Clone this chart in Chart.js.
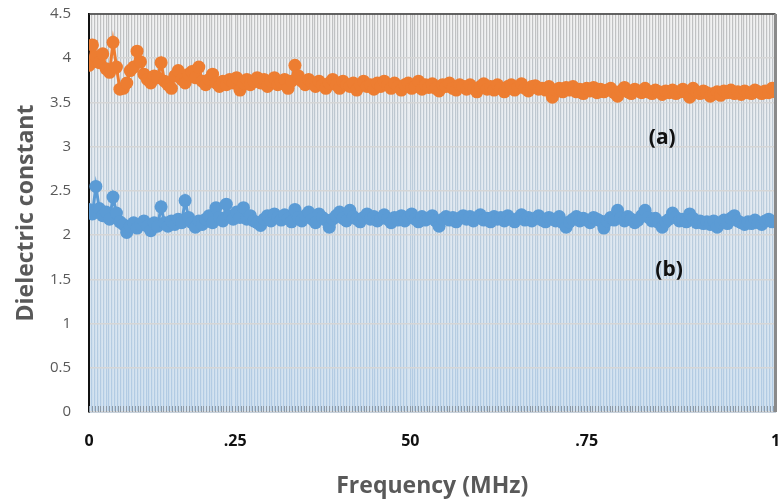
<!DOCTYPE html>
<html>
<head>
<meta charset="utf-8">
<script src="https://cdn.jsdelivr.net/npm/chart.js@4/dist/chart.umd.min.js"></script>
<style>
  html, body { margin: 0; padding: 0; background: #fff; }
  #wrap { width: 782px; height: 500px; }
</style>
</head>
<body>
<div id="wrap"><canvas id="chart" width="782" height="500"></canvas></div>
<script>
// Frequency (normalised, 0 - 1 MHz)
const freq = [
  0.000, 0.005, 0.010, 0.015, 0.020, 0.025, 0.030, 0.035, 0.040, 0.045,
  0.050, 0.055, 0.060, 0.065, 0.070, 0.075, 0.080, 0.085, 0.090, 0.095,
  0.100, 0.105, 0.110, 0.115, 0.120, 0.125, 0.130, 0.135, 0.140, 0.145,
  0.150, 0.155, 0.160, 0.165, 0.170, 0.175, 0.180, 0.185, 0.190, 0.195,
  0.200, 0.205, 0.210, 0.215, 0.220, 0.225, 0.230, 0.235, 0.240, 0.245,
  0.250, 0.255, 0.260, 0.265, 0.270, 0.275, 0.280, 0.285, 0.290, 0.295,
  0.300, 0.305, 0.310, 0.315, 0.320, 0.325, 0.330, 0.335, 0.340, 0.345,
  0.350, 0.355, 0.360, 0.365, 0.370, 0.375, 0.380, 0.385, 0.390, 0.395,
  0.400, 0.405, 0.410, 0.415, 0.420, 0.425, 0.430, 0.435, 0.440, 0.445,
  0.450, 0.455, 0.460, 0.465, 0.470, 0.475, 0.480, 0.485, 0.490, 0.495,
  0.500, 0.505, 0.510, 0.515, 0.520, 0.525, 0.530, 0.535, 0.540, 0.545,
  0.550, 0.555, 0.560, 0.565, 0.570, 0.575, 0.580, 0.585, 0.590, 0.595,
  0.600, 0.605, 0.610, 0.615, 0.620, 0.625, 0.630, 0.635, 0.640, 0.645,
  0.650, 0.655, 0.660, 0.665, 0.670, 0.675, 0.680, 0.685, 0.690, 0.695,
  0.700, 0.705, 0.710, 0.715, 0.720, 0.725, 0.730, 0.735, 0.740, 0.745,
  0.750, 0.755, 0.760, 0.765, 0.770, 0.775, 0.780, 0.785, 0.790, 0.795,
  0.800, 0.805, 0.810, 0.815, 0.820, 0.825, 0.830, 0.835, 0.840, 0.845,
  0.850, 0.855, 0.860, 0.865, 0.870, 0.875, 0.880, 0.885, 0.890, 0.895,
  0.900, 0.905, 0.910, 0.915, 0.920, 0.925, 0.930, 0.935, 0.940, 0.945,
  0.950, 0.955, 0.960, 0.965, 0.970, 0.975, 0.980, 0.985, 0.990, 0.995,
  1.000
];

// (a) orange series
const seriesA = [
  3.92, 4.15, 4.02, 3.95, 4.05, 3.88, 3.84, 4.18, 3.90, 3.65,
  3.66, 3.72, 3.86, 3.90, 4.08, 3.96, 3.82, 3.76, 3.72, 3.80,
  3.78, 3.95, 3.74, 3.70, 3.66, 3.80, 3.86, 3.76, 3.72, 3.82,
  3.85, 3.78, 3.90, 3.74, 3.70, 3.76, 3.82, 3.72, 3.68, 3.74,
  3.70, 3.76, 3.72, 3.78, 3.64, 3.72, 3.76, 3.70, 3.74, 3.78,
  3.72, 3.76, 3.68, 3.74, 3.78, 3.70, 3.73, 3.76, 3.66, 3.74,
  3.92, 3.80, 3.74, 3.70, 3.76, 3.72, 3.68, 3.74, 3.70, 3.66,
  3.72, 3.76, 3.70, 3.66, 3.74, 3.70, 3.68, 3.72, 3.64, 3.70,
  3.74, 3.68, 3.70, 3.65, 3.72, 3.68, 3.74, 3.70, 3.66, 3.72,
  3.68, 3.64, 3.70, 3.72, 3.66, 3.68, 3.74, 3.65, 3.70, 3.67,
  3.71, 3.66, 3.63, 3.70, 3.68, 3.72, 3.66, 3.64, 3.70, 3.68,
  3.65, 3.70, 3.66, 3.62, 3.68, 3.71, 3.65, 3.68, 3.64, 3.70,
  3.66, 3.62, 3.68, 3.70, 3.64, 3.67, 3.71, 3.66, 3.63, 3.68,
  3.69, 3.65, 3.66, 3.64, 3.68, 3.56, 3.64, 3.66, 3.62, 3.67,
  3.64, 3.68, 3.62, 3.65, 3.60, 3.66, 3.63, 3.67, 3.61, 3.65,
  3.62, 3.64, 3.66, 3.61, 3.57, 3.63, 3.67, 3.62, 3.60, 3.65,
  3.63, 3.61, 3.66, 3.62, 3.60, 3.64, 3.62, 3.59, 3.63, 3.61,
  3.64, 3.60, 3.62, 3.65, 3.61, 3.56, 3.66, 3.62, 3.60, 3.63,
  3.61, 3.57, 3.60, 3.62, 3.58, 3.63, 3.61, 3.64, 3.60, 3.62,
  3.59, 3.63, 3.61, 3.60, 3.64, 3.62, 3.60, 3.63, 3.61, 3.66,
  3.62
];

// (b) blue series
const seriesB = [
  2.29, 2.24, 2.55, 2.30, 2.22, 2.26, 2.18, 2.43, 2.25, 2.15,
  2.12, 2.03, 2.10, 2.14, 2.08, 2.12, 2.16, 2.10, 2.05, 2.14,
  2.10, 2.32, 2.14, 2.10, 2.16, 2.12, 2.18, 2.14, 2.39, 2.20,
  2.14, 2.09, 2.16, 2.12, 2.18, 2.22, 2.14, 2.31, 2.20, 2.16,
  2.35, 2.22, 2.18, 2.26, 2.20, 2.31, 2.18, 2.22, 2.16, 2.14,
  2.11, 2.18, 2.22, 2.16, 2.24, 2.20, 2.17, 2.23, 2.19, 2.15,
  2.29, 2.20, 2.16, 2.22, 2.26, 2.18, 2.14, 2.24, 2.20, 2.17,
  2.09, 2.18, 2.22, 2.26, 2.19, 2.16, 2.28, 2.21, 2.18, 2.15,
  2.20, 2.24, 2.18, 2.21, 2.16, 2.19, 2.23, 2.18, 2.14, 2.20,
  2.17, 2.22, 2.16, 2.20, 2.24, 2.18, 2.15, 2.21, 2.17, 2.19,
  2.22, 2.16, 2.10, 2.18, 2.21, 2.17, 2.20, 2.15, 2.19, 2.22,
  2.18, 2.21, 2.16, 2.20, 2.23, 2.17, 2.19, 2.15, 2.21, 2.18,
  2.20, 2.16, 2.22, 2.18, 2.15, 2.19, 2.23, 2.17, 2.20, 2.16,
  2.19, 2.22, 2.17, 2.15, 2.20, 2.18, 2.16, 2.21, 2.14, 2.09,
  2.15, 2.18, 2.21, 2.16, 2.19, 2.17, 2.14, 2.20, 2.18, 2.16,
  2.08, 2.16, 2.20, 2.17, 2.28, 2.20, 2.16, 2.21, 2.18, 2.14,
  2.17, 2.22, 2.28, 2.20, 2.16, 2.19, 2.14, 2.09, 2.15, 2.18,
  2.25, 2.20, 2.16, 2.18, 2.15, 2.24, 2.19, 2.14, 2.16, 2.13,
  2.15, 2.12, 2.16, 2.09, 2.14, 2.17, 2.13, 2.19, 2.22, 2.16,
  2.14, 2.12, 2.15, 2.13, 2.17, 2.14, 2.12, 2.16, 2.18, 2.15,
  2.16
];

// x tick labels as printed on the original figure, and where they sit
const xTickLabels = ['0', '.25', '50', '.75', '1'];
const xTickPos = [0, 0.213, 0.468, 0.725, 1];

const yTicks = [0, 0.5, 1, 1.5, 2, 2.5, 3, 3.5, 4, 4.5];

const ORANGE = '#ED7D31';
const BLUE = '#5B9BD5';

Chart.defaults.font.family = "'Open Sans', sans-serif";

function toPoints(ys) {
    return ys.map((y, i) => ({ x: freq[i], y: y }));
}

// gradient helpers (plot background goes grey -> light blue)
let bgGrad = null, lineGrad = null;
function makeGrads(chart) {
    const a = chart.chartArea;
    const ctx = chart.ctx;
    bgGrad = ctx.createLinearGradient(0, a.top, 0, a.bottom);
    bgGrad.addColorStop(0, '#f2f2f2');
    bgGrad.addColorStop(0.45, '#e3eaf1');
    bgGrad.addColorStop(1, '#d2e2f0');
    lineGrad = ctx.createLinearGradient(0, a.top, 0, a.bottom);
    lineGrad.addColorStop(0, '#c0c0c0');
    lineGrad.addColorStop(0.45, '#bccddc');
    lineGrad.addColorStop(1, '#b1cbe4');
}

const plotFrame = {
    id: 'plotFrame',
    beforeDraw(chart) {
        const a = chart.chartArea;
        makeGrads(chart);
        const ctx = chart.ctx;
        ctx.save();
        ctx.fillStyle = bgGrad;
        ctx.fillRect(a.left, a.top, a.right - a.left, a.bottom - a.top);
        ctx.restore();
    },
    beforeDatasetsDraw(chart) {
        // short dark tick strip along the bottom edge, one per grid line
        const a = chart.chartArea;
        const ctx = chart.ctx;
        const xs = chart.scales.x;
        ctx.save();
        ctx.strokeStyle = '#8e9aa6';
        ctx.lineWidth = 1;
        ctx.beginPath();
        xs.ticks.forEach(t => {
            const px = Math.round(xs.getPixelForValue(t.value)) + 0.5;
            ctx.moveTo(px, a.bottom - 6);
            ctx.lineTo(px, a.bottom);
        });
        ctx.stroke();
        ctx.restore();
    },
    afterDatasetsDraw(chart) {
        const a = chart.chartArea;
        const ctx = chart.ctx;
        ctx.save();
        // top border
        ctx.strokeStyle = '#3a3a3a';
        ctx.lineWidth = 1.5;
        ctx.beginPath();
        ctx.moveTo(a.left, a.top);
        ctx.lineTo(a.right, a.top);
        ctx.stroke();
        // right border
        ctx.strokeStyle = '#8a8a8a';
        ctx.lineWidth = 3;
        ctx.beginPath();
        ctx.moveTo(a.right, a.top);
        ctx.lineTo(a.right, a.bottom);
        ctx.stroke();
        // series tags
        const xs = chart.scales.x, ys = chart.scales.y;
        ctx.fillStyle = '#111';
        ctx.font = "bold 21px 'Open Sans', sans-serif";
        ctx.textAlign = 'center';
        ctx.textBaseline = 'middle';
        ctx.fillText('(a)', xs.getPixelForValue(0.835), ys.getPixelForValue(3.1));
        ctx.fillText('(b)', xs.getPixelForValue(0.845), ys.getPixelForValue(1.6));
        ctx.restore();
    }
};

new Chart(document.getElementById('chart'), {
    type: 'scatter',
    data: {
        datasets: [
            {
                label: '(a)',
                data: toPoints(seriesA),
                showLine: true,
                borderColor: ORANGE,
                backgroundColor: ORANGE,
                borderWidth: 3,
                pointRadius: 6.5,
                pointBorderWidth: 0
            },
            {
                label: '(b)',
                data: toPoints(seriesB),
                showLine: true,
                borderColor: BLUE,
                backgroundColor: BLUE,
                borderWidth: 3,
                pointRadius: 6.5,
                pointBorderWidth: 0
            }
        ]
    },
    options: {
        responsive: false,
        animation: false,
        layout: { padding: { left: 0, right: 3, top: 14, bottom: 0 } },
        plugins: {
            legend: { display: false },
            tooltip: { enabled: false }
        },
        scales: {
            x: {
                type: 'linear',
                min: 0,
                max: 1,
                afterBuildTicks(scale) {
                    const ticks = [];
                    for (let i = 0; i <= 240; i++) {
                        const v = i / 240;
                        if (xTickPos.some(p => Math.abs(p - v) < 0.002)) continue;
                        ticks.push({ value: v });
                    }
                    xTickPos.forEach(p => ticks.push({ value: p }));
                    ticks.sort((a, b) => a.value - b.value);
                    scale.ticks = ticks;
                },
                afterFit(scale) {
                    scale.height = 88;
                    scale.paddingLeft = 0;
                    scale.paddingRight = 0;
                },
                grid: {
                    color: () => lineGrad || '#d0d0d0',
                    lineWidth: 1.2,
                    drawTicks: false
                },
                border: { color: '#c8d2dc', width: 1 },
                ticks: {
                    autoSkip: false,
                    maxRotation: 0,
                    padding: 20,
                    color: '#111',
                    font: { size: 16, weight: 'bold' },
                    callback(value) {
                        const k = xTickPos.findIndex(p => Math.abs(p - value) < 1e-9);
                        return k >= 0 ? xTickLabels[k] : '';
                    }
                },
                title: {
                    display: true,
                    text: 'Frequency (MHz)',
                    color: '#595959',
                    font: { size: 23, weight: 'bold' },
                    padding: { top: 0, bottom: 0 }
                }
            },
            y: {
                min: 0,
                max: 4.5,
                afterBuildTicks(scale) {
                    scale.ticks = yTicks.map(v => ({ value: v }));
                },
                afterFit(scale) {
                    scale.width = 89;
                    scale.paddingTop = 0;
                    scale.paddingBottom = 0;
                },
                grid: {
                    color: '#d6d6d6',
                    lineWidth: 1.5,
                    drawTicks: false
                },
                border: { color: '#111', width: 2 },
                ticks: {
                    padding: 18,
                    color: '#595959',
                    font: { size: 15 },
                    callback: value => String(value)
                },
                title: {
                    display: true,
                    text: 'Dielectric constant',
                    color: '#595959',
                    font: { size: 23, weight: 'bold' },
                    padding: { top: 13, bottom: 0 }
                }
            }
        }
    },
    plugins: [plotFrame]
});
</script>
</body>
</html>
